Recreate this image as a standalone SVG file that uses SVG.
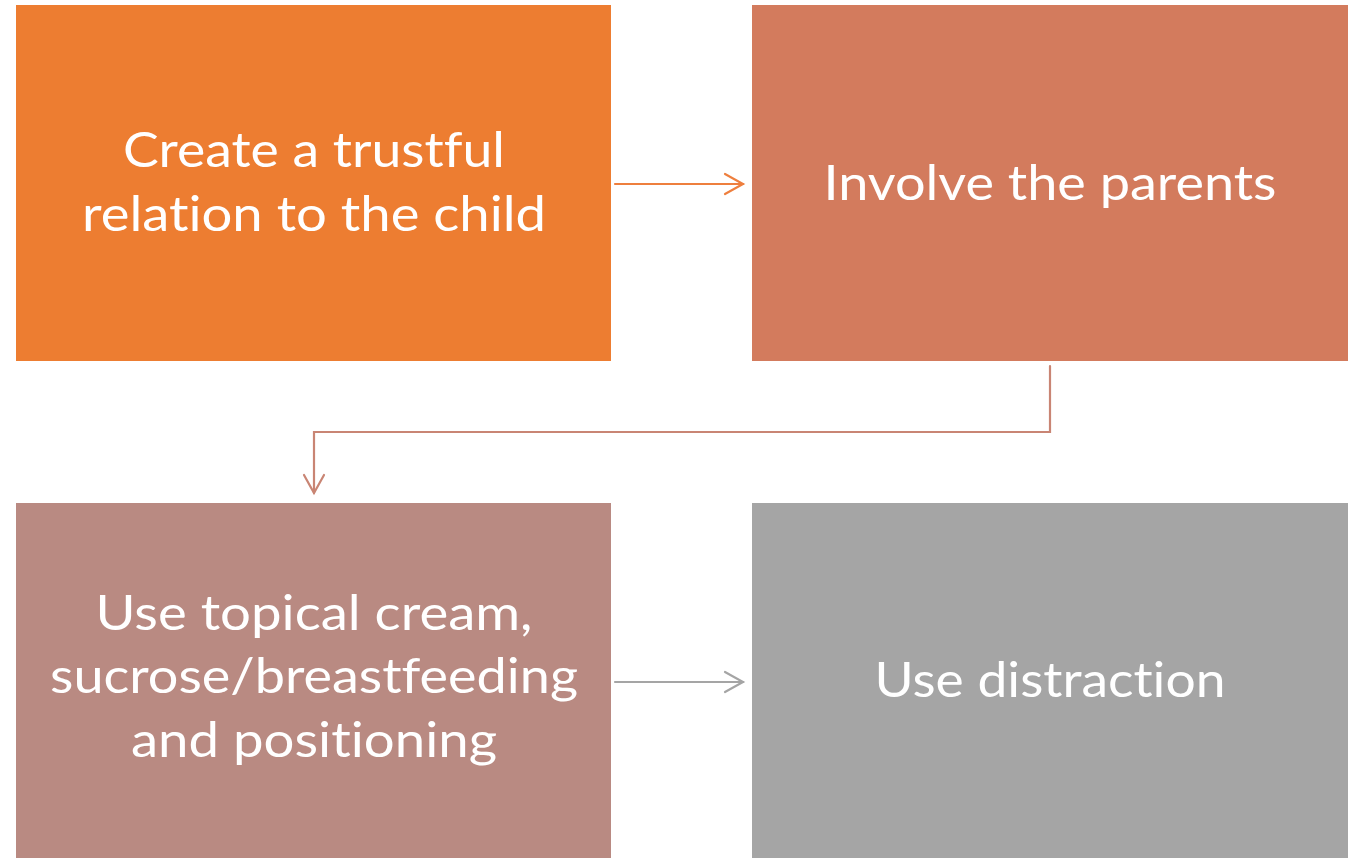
<svg xmlns="http://www.w3.org/2000/svg" width="1358" height="858" viewBox="0 0 1358 858">
<style>
.lbl{font-family:Lato,"Open Sans","Liberation Sans",sans-serif;font-size:48px;fill:#ffffff;text-anchor:middle;font-variant-ligatures:none;font-feature-settings:"liga" 0,"dlig" 0}
.conn{fill:none;stroke-width:2.2;stroke-linecap:round;stroke-linejoin:miter}
</style>
<rect width="1358" height="858" fill="#ffffff"/>
<g id="node1">
<rect x="16" y="5" width="595" height="356" fill="#ED7D31"/>
<text class="lbl" x="314" y="167" textLength="382" lengthAdjust="spacingAndGlyphs">Create a trustful</text>
<text class="lbl" x="314" y="231" textLength="464" lengthAdjust="spacingAndGlyphs">relation to the child</text>
</g>
<g id="node2">
<rect x="752" y="5" width="596" height="356" fill="#D37B5D"/>
<text class="lbl" x="1050" y="200" textLength="453" lengthAdjust="spacingAndGlyphs">Involve the parents</text>
</g>
<g id="node3">
<rect x="16" y="503" width="595" height="355" fill="#B98A82"/>
<text class="lbl" x="314" y="630" textLength="437" lengthAdjust="spacingAndGlyphs">Use topical cream,</text>
<text class="lbl" x="314" y="693" textLength="528" lengthAdjust="spacingAndGlyphs">sucrose/breastfeeding</text>
<text class="lbl" x="314" y="757" textLength="366" lengthAdjust="spacingAndGlyphs">and positioning</text>
</g>
<g id="node4">
<rect x="752" y="503" width="596" height="355" fill="#A5A5A5"/>
<text class="lbl" x="1050" y="697" textLength="351" lengthAdjust="spacingAndGlyphs">Use distraction</text>
</g>
<g id="connectors">
<g stroke="#EE7F3E" class="conn">
<path d="M615 184 H743"/>
<path d="M725 174 L743 184 L725 194"/>
</g>
<g stroke="#C98574" class="conn">
<path d="M1050 366 V432 H314 V493"/>
<path d="M304 475 L314 493 L324 475"/>
</g>
<g stroke="#A5A5A5" class="conn">
<path d="M615 682 H743"/>
<path d="M725 672 L743 682 L725 692"/>
</g>
</g>
</svg>
